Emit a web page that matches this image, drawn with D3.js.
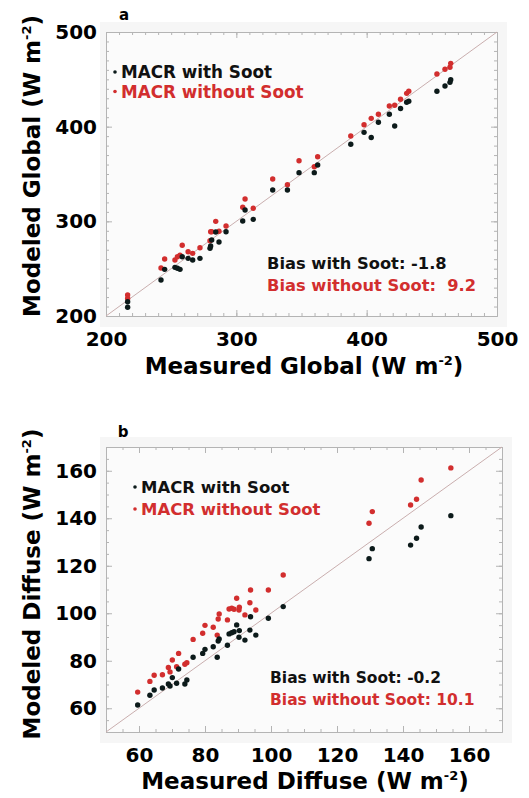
<!DOCTYPE html>
<html>
<head>
<meta charset="utf-8">
<script src="https://cdn.jsdelivr.net/npm/d3@7"></script>
<style>
  html, body { margin: 0; padding: 0; background: #ffffff; }
  svg { display: block; }
  text { font-family: "DejaVu Sans", "Liberation Sans", Arial, sans-serif; font-weight: bold; }
</style>
</head>
<body>
<svg id="chart" width="529" height="798"></svg>
<script>
// ---------- Data ----------
// Panel a: global irradiance (W m-2)
const globalMeasured = [216.6,216.6,242.2,245.0,252.9,254.8,256.8,258.5,263.0,266.5,
  272.1,279.8,280.3,281.1,284.2,286.7,292.1,304.9,306.7,313.0,
  327.9,339.2,348.1,359.8,362.4,387.8,398.0,403.5,409.0,417.4,
  421.5,426.0,430.7,432.3,453.9,460.1,463.9,464.5];
const globalWithSoot = [209.2,215.1,238.0,249.3,251.4,250.4,249.3,262.6,260.9,259.2,
  260.9,271.5,273.9,280.3,288.7,278.2,289.0,300.3,312.0,302.1,
  333.1,333.1,351.4,351.4,359.5,381.5,394.0,388.5,404.6,413.1,
  400.7,419.2,425.8,426.9,437.4,443.0,446.8,449.6];
const globalWithoutSoot = [218.5,222.2,250.7,260.2,259.2,262.6,264.1,274.7,267.9,266.2,
  272.1,279.5,289.0,289.0,300.0,289.5,295.1,314.8,323.6,313.8,
  344.7,338.7,364.0,357.7,368.3,390.1,402.1,408.8,413.1,421.8,
  422.6,428.9,435.2,437.4,455.6,460.6,462.7,466.9];
const globalDomain = [200, 500];
const globalTicks = [200, 300, 400, 500];

// Panel b: diffuse irradiance (W m-2)
const diffuseMeasured = [59.6,63.3,64.6,67.1,68.9,69.4,70.1,71.4,72.0,73.9,
  74.5,76.4,79.3,80.0,82.5,83.7,84.0,84.3,86.8,87.3,
  88.1,88.8,89.6,90.3,90.4,92.1,93.6,93.8,95.4,99.2,
  103.7,129.7,130.7,142.3,144.1,145.5,154.5];
const diffuseWithSoot = [61.4,65.5,67.7,68.5,70.2,69.4,72.9,70.5,76.5,70.2,
  71.9,81.5,83.1,84.8,85.9,81.5,88.3,89.2,86.5,91.3,
  91.8,92.2,95.1,89.9,92.7,88.7,92.9,98.5,90.8,97.9,
  102.8,123.0,127.2,128.7,131.6,136.3,141.1];
const diffuseWithoutSoot = [66.8,71.3,73.9,74.1,77.2,75.3,80.3,77.5,83.1,78.5,
  79.2,89.0,91.6,94.9,94.1,90.8,97.6,99.7,97.2,101.8,
  102.1,101.7,106.3,101.4,102.5,99.3,104.4,109.8,101.4,109.8,
  116.1,137.9,142.8,145.6,148.0,156.1,161.2];
const diffuseDomain = [50, 170];
const diffuseTicks = [60, 80, 100, 120, 140, 160];

const seriesNames = ["MACR with Soot", "MACR without Soot"];
const biasLabelsA = ["Bias with Soot: -1.8", "Bias without Soot:  9.2"];
const biasLabelsB = ["Bias with Soot: -0.2", "Bias without Soot: 10.1"];
const panelLetters = ["a", "b"];
const xTitles = ["Measured Global", "Measured Diffuse"];
const yTitles = ["Modeled Global", "Modeled Diffuse"];

// ---------- Styles ----------
const BLACK = "#0c1a1a";
const RED = "#d22e2e";
const TEXT_BLACK = "#111111";
const FRAME = "#b4b4b4";

const svg = d3.select("#chart");

function unitTitle(sel, base) {
  sel.append("tspan").text(base + " (W m");
  sel.append("tspan").attr("font-size", "13px").attr("dy", -9).text("-2");
  sel.append("tspan").attr("dy", 9).text(")");
}

function drawPanel(p) {
  const g = svg.append("g");
  const x = d3.scaleLinear().domain(p.domain).range(p.xRange);
  const y = d3.scaleLinear().domain(p.domain).range(p.yRange);
  const [x0, x1] = p.xRange, [y0, y1] = p.yRange; // y0 bottom, y1 top

  // light background of the plot image
  g.append("rect")
    .attr("x", x0 - 6).attr("y", y1 - 10)
    .attr("width", x1 - x0 + 16).attr("height", y0 - y1 + 21)
    .attr("fill", "#f6f6f6");
  g.append("rect")
    .attr("x", x0).attr("y", y1)
    .attr("width", x1 - x0).attr("height", y0 - y1)
    .attr("fill", "#fbfbfb");

  const minor = d3.range(p.domain[0], p.domain[1] + 0.001, p.minorStep);
  const styleAxis = (a) => {
    a.selectAll("path.domain").attr("stroke", FRAME).attr("stroke-width", 1);
    a.selectAll(".tick line").attr("stroke", FRAME).attr("stroke-width", 1);
    a.selectAll(".tick text").remove();
  };
  // frame with inward ticks on all sides
  [[d3.axisBottom(x), `translate(0,${y0})`],
   [d3.axisTop(x), `translate(0,${y1})`],
   [d3.axisLeft(y), `translate(${x0},0)`],
   [d3.axisRight(y), `translate(${x1},0)`]].forEach(([ax, tr]) => {
    g.append("g").attr("transform", tr)
      .call(ax.tickValues(minor).tickSize(-3).tickSizeOuter(0).tickFormat(""))
      .call(styleAxis);
  });
  [[d3.axisBottom(x), `translate(0,${y0})`],
   [d3.axisTop(x), `translate(0,${y1})`],
   [d3.axisLeft(y), `translate(${x0},0)`],
   [d3.axisRight(y), `translate(${x1},0)`]].forEach(([ax, tr]) => {
    g.append("g").attr("transform", tr)
      .call(ax.tickValues(p.ticks).tickSize(-6).tickSizeOuter(0).tickFormat(""))
      .call(styleAxis);
  });

  // tick labels
  const xl = g.append("g").attr("transform", `translate(0,${y0})`)
    .call(d3.axisBottom(x).tickValues(p.ticks).tickSize(0).tickPadding(16).tickFormat(d3.format("d")));
  xl.select(".domain").remove();
  xl.selectAll("text").attr("font-size", "20px").attr("fill", "#000")
    .attr("font-family", '"DejaVu Sans", sans-serif').attr("font-weight", "bold");
  const yl = g.append("g").attr("transform", `translate(${x0},0)`)
    .call(d3.axisLeft(y).tickValues(p.ticks).tickSize(0).tickPadding(9).tickFormat(d3.format("d")));
  yl.select(".domain").remove();
  yl.selectAll("text").attr("font-size", "20px").attr("fill", "#000")
    .attr("font-family", '"DejaVu Sans", sans-serif').attr("font-weight", "bold");

  // 1:1 line
  g.append("line")
    .attr("x1", x(p.domain[0])).attr("y1", y(p.domain[0]))
    .attr("x2", x(p.domain[1])).attr("y2", y(p.domain[1]))
    .attr("stroke", "#c9aeae").attr("stroke-width", 1);

  // points
  const pts = p.measured.map((m, i) => ({ m, w: p.withSoot[i], wo: p.withoutSoot[i] }));
  g.append("g").selectAll("circle").data(pts).join("circle")
    .attr("cx", d => x(d.m)).attr("cy", d => y(d.wo)).attr("r", 2.7).attr("fill", RED);
  g.append("g").selectAll("circle").data(pts).join("circle")
    .attr("cx", d => x(d.m)).attr("cy", d => y(d.w)).attr("r", 2.7).attr("fill", BLACK);

  // legend
  const lg = g.append("g");
  seriesNames.forEach((name, i) => {
    const by = p.legend.y + i * p.legend.dy;
    lg.append("circle").attr("cx", p.legend.x - 6).attr("cy", by - p.legend.size * 0.36)
      .attr("r", 1.8).attr("fill", i === 0 ? BLACK : RED);
    lg.append("text").attr("x", p.legend.x).attr("y", by)
      .attr("font-size", p.legend.size + "px")
      .attr("fill", i === 0 ? TEXT_BLACK : RED).text(name);
  });

  // bias text
  p.bias.forEach((t, i) => {
    g.append("text").attr("x", p.biasPos.x).attr("y", p.biasPos.y + i * p.biasPos.dy)
      .attr("font-size", p.biasPos.size + "px")
      .style("white-space", "pre")
      .attr("fill", i === 0 ? TEXT_BLACK : RED).text(t);
  });

  // panel letter
  g.append("text").attr("x", p.letterPos[0]).attr("y", p.letterPos[1])
    .attr("text-anchor", "middle").attr("font-size", "15px").attr("fill", "#000")
    .text(p.letter);

  // axis titles
  const xt = g.append("text").attr("x", p.xTitlePos[0]).attr("y", p.xTitlePos[1])
    .attr("text-anchor", "middle").attr("font-size", "23px").attr("fill", "#000");
  unitTitle(xt, p.xTitle);
  const yt = g.append("text")
    .attr("transform", `translate(${p.yTitlePos[0]},${p.yTitlePos[1]}) rotate(-90)`)
    .attr("text-anchor", "middle").attr("font-size", "23px").attr("fill", "#000");
  unitTitle(yt, p.yTitle);
}

drawPanel({
  domain: globalDomain, ticks: globalTicks, minorStep: 10,
  xRange: [106, 497], yRange: [316, 32],
  measured: globalMeasured, withSoot: globalWithSoot, withoutSoot: globalWithoutSoot,
  legend: { x: 121, y: 78, dy: 19.5, size: 16.8 },
  bias: biasLabelsA, biasPos: { x: 267, y: 269, dy: 22, size: 16.3 },
  letter: panelLetters[0], letterPos: [124, 20],
  xTitle: xTitles[0], xTitlePos: [304, 374],
  yTitle: yTitles[0], yTitlePos: [40, 166]
});

drawPanel({
  domain: diffuseDomain, ticks: diffuseTicks, minorStep: 5,
  xRange: [106, 502], yRange: [732, 447],
  measured: diffuseMeasured, withSoot: diffuseWithSoot, withoutSoot: diffuseWithoutSoot,
  legend: { x: 141, y: 493, dy: 22, size: 16.5 },
  bias: biasLabelsB, biasPos: { x: 270, y: 683, dy: 22, size: 15.5 },
  letter: panelLetters[1], letterPos: [123, 437],
  xTitle: xTitles[1], xTitlePos: [305, 789],
  yTitle: yTitles[1], yTitlePos: [40, 584]
});
</script>
</body>
</html>
